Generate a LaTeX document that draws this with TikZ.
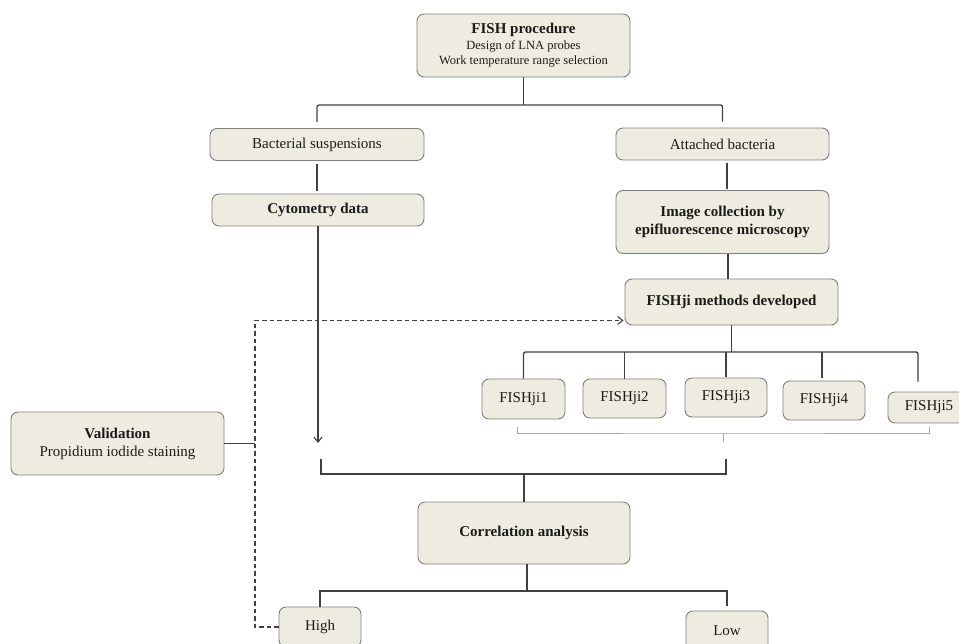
\documentclass[tikz,border=0pt]{standalone}
\usepackage{fontspec}
\setmainfont{Liberation Serif}
\usetikzlibrary{arrows.meta}
\definecolor{boxfill}{HTML}{EEECE1}
\definecolor{boxline}{HTML}{7F7F7F}
\definecolor{connc}{HTML}{404040}
\definecolor{brkc}{HTML}{A6A6A6}
\definecolor{txt}{HTML}{1A1A1A}
\begin{document}
\begin{tikzpicture}[x=1pt,y=-1pt,
  box/.style={draw=boxline, fill=boxfill, rounded corners=7pt, line width=0.9pt,
    align=center, inner sep=0pt, text=txt, font=\fontsize{15}{18}\selectfont},
  conn/.style={draw=connc, line width=1.3pt},
  dashline/.style={draw=connc, line width=1.1pt, dash pattern=on 4.5pt off 3pt},
  brk/.style={draw=brkc, line width=1pt},
  tip/.style={-{Straight Barb[length=5pt,width=8pt,line width=1.1pt]}}
]
\useasboundingbox (0,0) rectangle (959,644);

% nodes
\node[box, minimum width=213pt, minimum height=63pt, font=\fontsize{12.5}{15.5}\selectfont] (fish) at (523.5,45.5)
  {{\fontsize{15}{15.5}\selectfont\bfseries FISH procedure}\\Design of LNA probes\\Work temperature range selection};
\node[box, minimum width=214pt, minimum height=32pt] (bact) at (317,144.5) {Bacterial suspensions};
\node[box, minimum width=212pt, minimum height=32pt] (cyto) at (318,210) {\bfseries Cytometry data};
\node[box, minimum width=213pt, minimum height=32pt] (att) at (722.5,144) {Attached bacteria};
\node[box, minimum width=213pt, minimum height=63pt, font=\fontsize{15}{17.7}\selectfont\bfseries] (img) at (722.5,222)
  {Image collection by\\epifluorescence microscopy};
\node[box, minimum width=213pt, minimum height=46pt] (meth) at (731.5,302) {\bfseries FISHji methods developed};

\node[box, minimum width=83pt, minimum height=40pt] (j1) at (523.5,399) {FISHji1};
\node[box, minimum width=83pt, minimum height=39pt] (j2) at (624.5,398.5) {FISHji2};
\node[box, minimum width=82pt, minimum height=39pt] (j3) at (726,397.5) {FISHji3};
\node[box, minimum width=82pt, minimum height=39pt] (j4) at (824,400.5) {FISHji4};
\node[box, minimum width=82pt, minimum height=31pt] (j5) at (929,407.5) {FISHji5};

\node[box, minimum width=213pt, minimum height=63pt] (val) at (117.5,443.5)
  {\textbf{Validation}\\Propidium iodide staining};
\node[box, minimum width=212pt, minimum height=62pt] (corr) at (524,533) {\bfseries Correlation analysis};
\node[box, minimum width=82pt, minimum height=40pt] (high) at (320,627) {High};
\node[box, minimum width=82pt, minimum height=40pt] (low) at (727,631) {Low};

% coordinates
\coordinate (f1) at (523.5,105);
\coordinate (f2) at (731.5,352);
\coordinate (a1) at (318,443);
\coordinate (b1l) at (517,427);
\coordinate (b1r) at (929,427);
\coordinate (b1m) at (723,433);
\coordinate (b2l) at (321,459);
\coordinate (b2r) at (726,459);
\coordinate (b2m) at (524,474);
\coordinate (f3) at (527,591);
\coordinate (dv) at (255,627);

% connectors
\draw[conn] (fish.south) -- (f1);
\draw[conn, rounded corners=2pt] ([yshift=6pt]bact.north) |- (f1) -| ([yshift=6pt]att.north);
\draw[conn, shorten <=3pt, shorten >=3pt] (bact.south) -- (bact.south |- cyto.north);
\draw[conn, tip] (cyto.south) -- (a1);
\draw[conn, shorten <=3pt, shorten >=1pt] ([xshift=4.5pt]att.south) -- ([xshift=4.5pt]img.north);
\draw[conn] ([xshift=5.5pt]img.south) -- ([xshift=-3.5pt]meth.north);

\draw[conn] (meth.south) -- (f2);
\draw[conn, rounded corners=2pt] (j1.north) |- (f2) -| ([xshift=-11pt,yshift=10pt]j5.north);
\draw[conn] (j2.north) -- (j2.north |- f2);
\draw[conn] ([yshift=1pt]j3.north) -- (j3.north |- f2);
\draw[conn] ([xshift=-2pt,yshift=3pt]j4.north) -- ([xshift=-2pt]j4.north |- f2);

% bracket under FISHji boxes
\draw[brk] (b1l) |- (b1m) -| (b1r);
\draw[brk] (b1m) -- ++(0,9);

% bracket above correlation
\draw[conn] (b2l) |- (b2m) -| (b2r);
\draw[conn] (b2m) -- (corr.north);

% correlation to high / low
\draw[conn] ([xshift=3pt]corr.south) -- (f3);
\draw[conn] (high.north) |- (f3) -| ([yshift=5pt]low.north);

% validation
\draw[conn] (val.east) -- (val.east -| dv);
\draw[dashline, tip, shorten >=1pt] (high.west) -- (dv) |- ([yshift=5pt]meth.south west);
\end{tikzpicture}
\end{document}
